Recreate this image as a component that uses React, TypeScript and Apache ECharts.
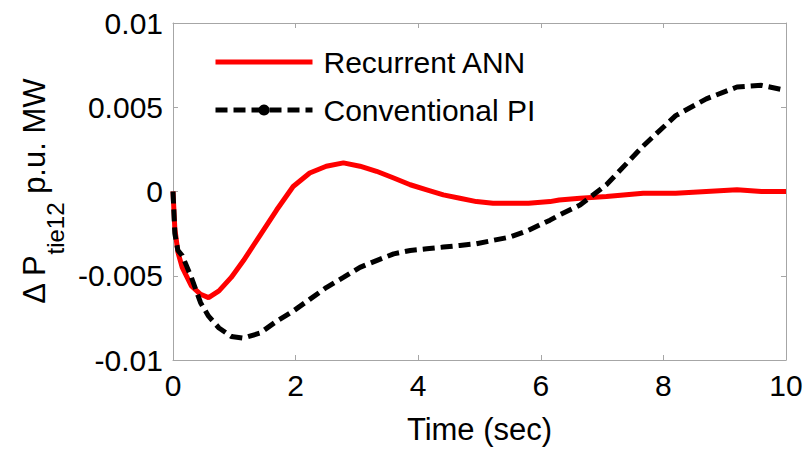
import React, { useEffect, useRef } from "react";
import * as echarts from "echarts";

const time = [0, 0.03, 0.08, 0.15, 0.3, 0.45, 0.58, 0.75, 0.95, 1.15, 1.42, 1.69, 1.96, 2.23, 2.5, 2.78, 3.05, 3.32, 3.6, 3.87, 4.14, 4.41, 4.68, 4.95, 5.22, 5.5, 5.8, 6.15, 6.3, 6.64, 7.07, 7.67, 8.2, 8.7, 9.2, 9.6, 10];
const recurrentANN = [0, -0.0022, -0.0036, -0.0045, -0.0056, -0.0061, -0.0063, -0.0059, -0.0051, -0.0041, -0.0026, -0.0011, 0.0003, 0.0011, 0.0015, 0.0017, 0.0015, 0.0012, 0.0008, 0.0004, 0.0001, -0.0002, -0.0004, -0.0006, -0.0007, -0.0007, -0.0007, -0.0006, -0.0005, -0.0004, -0.0003, -0.0001, -0.0001, 0, 0.0001, 0, 0];
const conventionalPI = [0, -0.0025, -0.0035, -0.0038, -0.0051, -0.0066, -0.0074, -0.0081, -0.0086, -0.0087, -0.0084, -0.0077, -0.0071, -0.0064, -0.0057, -0.0051, -0.0045, -0.0041, -0.0037, -0.0035, -0.0034, -0.0033, -0.0032, -0.0031, -0.0029, -0.0027, -0.0023, -0.0017, -0.0014, -0.0008, 0.0004, 0.0027, 0.0045, 0.0055, 0.0062, 0.0063, 0.006];
const seriesNames = ["Recurrent ANN", "Conventional PI"];
const xTicks = { min: 0, max: 10, interval: 2 };
const yTicks = { min: -0.01, max: 0.01, interval: 0.005 };

const FONT = "'Liberation Sans', Arial, sans-serif";
const AXIS_GRAY = "#a6a6a6";
const DASH = [12, 6];

export default function App() {
  const ref = useRef<HTMLDivElement>(null);
  useEffect(() => {
    if (!ref.current) return;
    const chart = echarts.init(ref.current, null, { renderer: "svg" });
    const pair = (vals: number[]) => time.map((t, i) => [t, vals[i]]);
    const boxAxis = {
      axisLine: { show: true, onZero: false, lineStyle: { color: AXIS_GRAY, width: 1 } },
      axisTick: { show: true, inside: true, length: 5, lineStyle: { color: AXIS_GRAY } },
      splitLine: { show: false },
    };
    chart.setOption({
      animation: false,
      backgroundColor: "#ffffff",
      textStyle: { fontFamily: FONT },
      grid: { left: 173, top: 23, width: 613, height: 340, containLabel: false },
      legend: {
        orient: "vertical",
        left: 213,
        top: 47,
        padding: 0,
        itemWidth: 97,
        itemHeight: 14,
        itemGap: 18,
        data: [
          {
            name: seriesNames[0],
            itemStyle: { opacity: 0 },
            lineStyle: { width: 5, color: "#ff0000" },
          },
          {
            name: seriesNames[1],
            lineStyle: { width: 5, color: "#000000", type: DASH },
          },
        ],
        textStyle: { fontFamily: FONT, fontSize: 30, color: "#000", lineHeight: 30, padding: [0, 0, 0, 6] },
      },
      xAxis: [
        {
          type: "value",
          ...xTicks,
          position: "bottom",
          name: "Time (sec)",
          nameLocation: "middle",
          nameGap: 54,
          nameTextStyle: { fontFamily: FONT, fontSize: 31, color: "#000" },
          axisLabel: { fontFamily: FONT, fontSize: 30, color: "#000", margin: 10 },
          ...boxAxis,
        },
        {
          type: "value",
          ...xTicks,
          position: "top",
          axisLabel: { show: false },
          ...boxAxis,
        },
      ],
      yAxis: [
        {
          type: "value",
          ...yTicks,
          position: "left",
          name: "{m|Δ P}{s|tie12}{m| p.u. MW}",
          nameLocation: "middle",
          nameRotate: 90,
          nameGap: 106,
          nameTextStyle: {
            fontFamily: FONT,
            fontSize: 31,
            color: "#000",
            rich: {
              m: { fontFamily: FONT, fontSize: 31, verticalAlign: "top", color: "#000" },
              s: { fontFamily: FONT, fontSize: 24, lineHeight: 48, verticalAlign: "bottom", color: "#000" },
            },
          },
          axisLabel: {
            fontFamily: FONT,
            fontSize: 30,
            color: "#000",
            margin: 10,
            formatter: (v: number) => String(+v.toFixed(3)),
          },
          ...boxAxis,
        },
        {
          type: "value",
          ...yTicks,
          position: "right",
          axisLabel: { show: false },
          ...boxAxis,
        },
      ],
      series: [
        {
          name: seriesNames[0],
          type: "line",
          data: pair(recurrentANN),
          symbol: "none",
          showSymbol: false,
          lineStyle: { color: "#ff0000", width: 5 },
          itemStyle: { color: "#ff0000" },
          z: 2,
        },
        {
          name: seriesNames[1],
          type: "line",
          data: pair(conventionalPI),
          symbol: "circle",
          symbolSize: 10,
          showSymbol: false,
          lineStyle: { color: "#000000", width: 5, type: DASH },
          itemStyle: { color: "#000000" },
          z: 3,
        },
      ],
    });
    return () => chart.dispose();
  }, []);
  return (
    <div
      ref={ref}
      style={{ position: "fixed", left: 0, top: 0, width: 808, height: 450, background: "#fff" }}
    />
  );
}
